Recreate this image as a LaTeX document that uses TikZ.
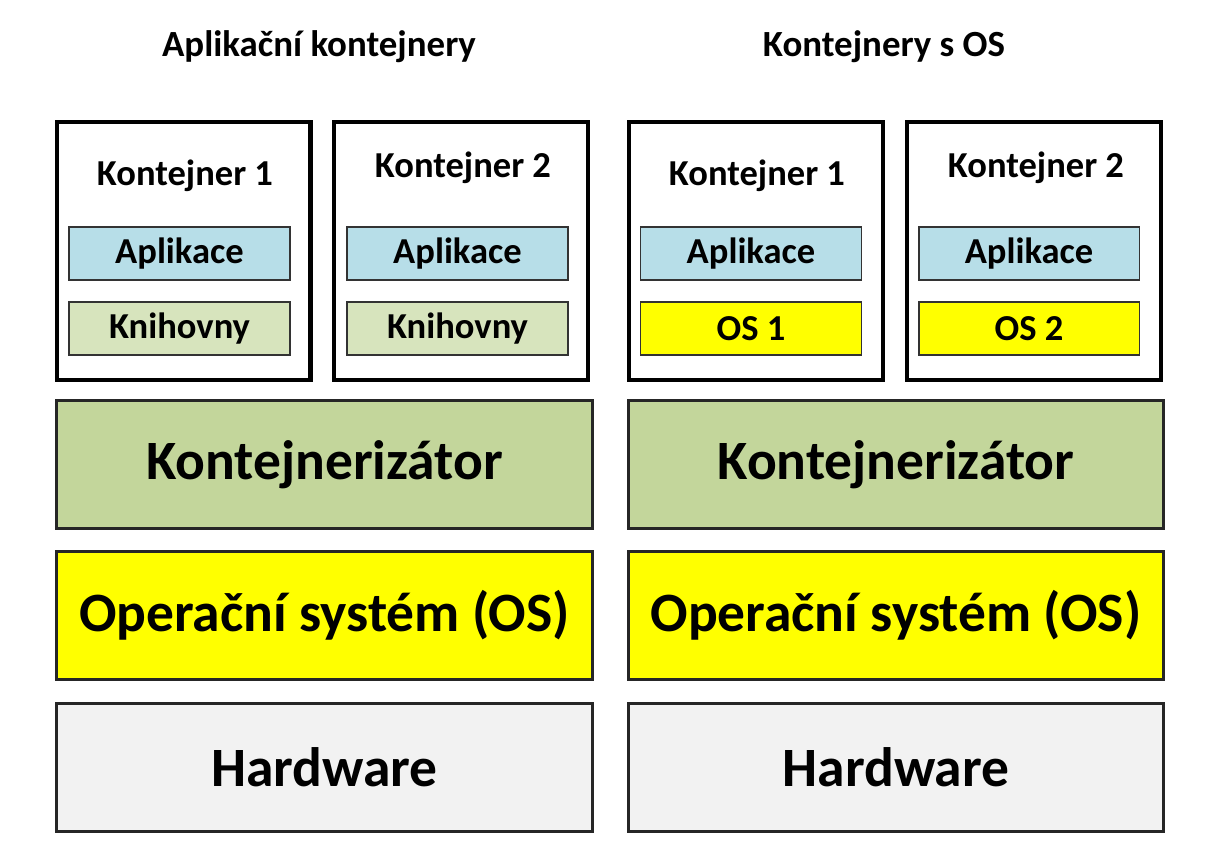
\documentclass[tikz,border=0pt]{standalone}
\usepackage{fontspec}
\setmainfont{Carlito}
\definecolor{appblue}{HTML}{B7DEE8}
\definecolor{libgreen}{HTML}{D7E4BD}
\definecolor{engreen}{HTML}{C3D69B}
\definecolor{hwgray}{HTML}{F2F2F2}
\definecolor{osyellow}{RGB}{255,255,0}
\begin{document}
\begin{tikzpicture}[x=0.02cm,y=-0.02cm,
    every node/.style={font=\bfseries, inner sep=0pt},
    title/.style={font=\bfseries\fontsize{21}{24}\selectfont},
    container/.style={draw, line width=2.3pt, minimum width=5.08cm, minimum height=5.16cm},
    clabel/.style={font=\bfseries\fontsize{20.8}{24}\selectfont},
    inner/.style={draw=black!80, line width=1.1pt, minimum width=4.42cm, minimum height=1.06cm,
      font=\bfseries\fontsize{20.8}{24}\selectfont},
    layer/.style={draw=black!85, line width=1.7pt, minimum width=10.72cm, minimum height=2.56cm,
      font=\bfseries\fontsize{31.6}{36}\selectfont}]
  \useasboundingbox (0,0) rectangle (1206,866);
  % titulky
  \node[title] (tl) at (319,47) {Aplikační kontejnery};
  \node[title] (tr) at (884,47) {Kontejnery s OS};
  % kontejnery vlevo
  \node[container] (c1) at (183.5,251) {};
  \node[container] (c2) at (461,251) {};
  \node[clabel] (c1t) at (185,176) {Kontejner 1};
  \node[clabel] (c2t) at (463,168) {Kontejner 2};
  \node[inner, fill=appblue] (a1) at (179.5,253.5) {Aplikace};
  \node[inner, fill=appblue] (a2) at (457.5,253.5) {Aplikace};
  \node[inner, fill=libgreen] (k1) at (179.5,328.5) {Knihovny};
  \node[inner, fill=libgreen] (k2) at (457.5,328.5) {Knihovny};
  % kontejnery vpravo
  \node[container] (c3) at (756,251) {};
  \node[container] (c4) at (1034,251) {};
  \node[clabel] (c3t) at (757,176) {Kontejner 1};
  \node[clabel] (c4t) at (1036,168) {Kontejner 2};
  \node[inner, fill=appblue] (a3) at (751,253.5) {Aplikace};
  \node[inner, fill=appblue] (a4) at (1029,253.5) {Aplikace};
  \node[inner, fill=osyellow] (o1) at (751,328.5) {OS 1};
  \node[inner, fill=osyellow] (o2) at (1029,328.5) {OS 2};
  % vrstvy
  \node[layer, fill=engreen] (kl) at (324.5,464.5) {Kontejnerizátor};
  \node[layer, fill=engreen] (kr) at (896,464.5) {Kontejnerizátor};
  \node[layer, fill=osyellow] (osl) at (324.5,615.5) {Operační systém (OS)};
  \node[layer, fill=osyellow] (osr) at (896,615.5) {Operační systém (OS)};
  \node[layer, fill=hwgray] (hl) at (324.5,767.5) {Hardware};
  \node[layer, fill=hwgray] (hr) at (896,767.5) {Hardware};
\end{tikzpicture}
\end{document}
